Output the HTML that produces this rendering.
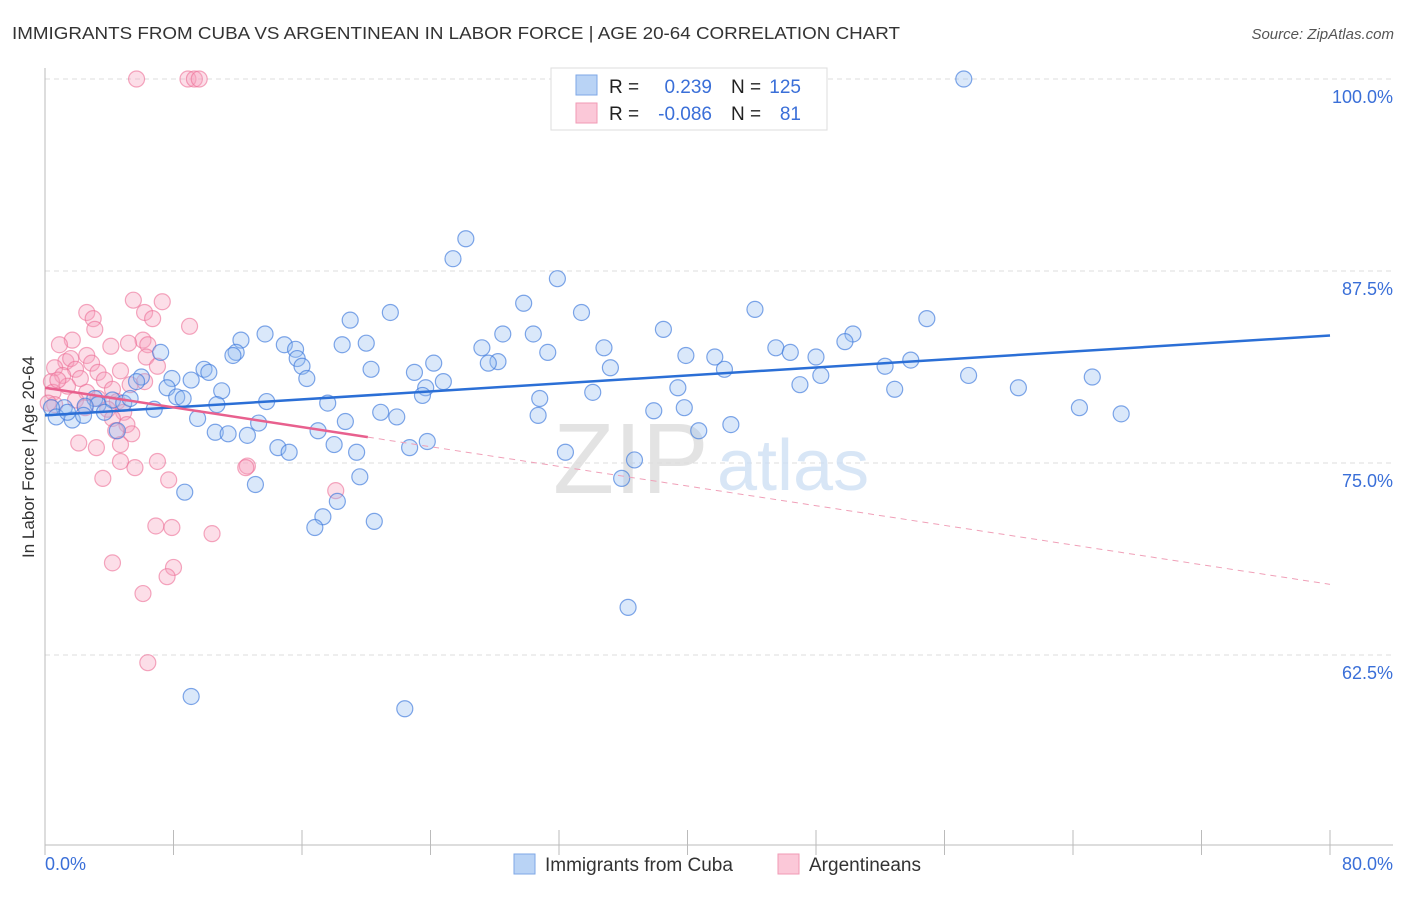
<!DOCTYPE html>
<html><head><meta charset="utf-8">
<style>
body{margin:0;background:#fff;font-family:"Liberation Sans",sans-serif;}
svg text{font-family:"Liberation Sans",sans-serif;}
</style></head>
<body>
<svg id="chart" width="1406" height="892" viewBox="0 0 1406 892" xmlns="http://www.w3.org/2000/svg">
<text x="12" y="39" font-size="17.5" fill="#333" textLength="888" lengthAdjust="spacingAndGlyphs">IMMIGRANTS FROM CUBA VS ARGENTINEAN IN LABOR FORCE | AGE 20-64 CORRELATION CHART</text>
<text x="1394" y="39" font-size="15" fill="#555" text-anchor="end" font-style="italic">Source: ZipAtlas.com</text>
<g id="grid"></g>
<g>
<text x="553" y="493" font-size="100" fill="#ddd" font-family="Liberation Serif" opacity="0.8">ZIP</text>
<text x="717" y="490" font-size="72" fill="#cfe0f5" opacity="0.8">atlas</text>
</g>
<g id="marks"></g>
<text transform="translate(34,457) rotate(-90)" font-size="17" fill="#333" text-anchor="middle">In Labor Force | Age 20-64</text>
<text x="45" y="870" font-size="18" fill="#3a6fd8">0.0%</text>
<text x="1393" y="870" font-size="18" fill="#3a6fd8" text-anchor="end">80.0%</text>
<g>
<rect x="551" y="68" width="276" height="62" fill="#fff" stroke="#ddd"/>
<rect x="576" y="75" width="21" height="20" fill="#b9d3f5" stroke="#7ea7e6"/>
<rect x="576" y="103" width="21" height="20" fill="#fbc8d8" stroke="#f09ab5"/>
<text x="609" y="93" font-size="19" fill="#222">R =</text>
<text x="712" y="93" font-size="19" fill="#3a6fd8" text-anchor="end">0.239</text>
<text x="731" y="93" font-size="19" fill="#222">N =</text>
<text x="801" y="93" font-size="19" fill="#3a6fd8" text-anchor="end">125</text>
<text x="609" y="120" font-size="19" fill="#222">R =</text>
<text x="712" y="120" font-size="19" fill="#3a6fd8" text-anchor="end">-0.086</text>
<text x="731" y="120" font-size="19" fill="#222">N =</text>
<text x="801" y="120" font-size="19" fill="#3a6fd8" text-anchor="end">81</text>
</g>
<g>
<rect x="514" y="854" width="21" height="20" fill="#b9d3f5" stroke="#7ea7e6"/>
<text x="545" y="871" font-size="19" fill="#333">Immigrants from Cuba</text>
<rect x="778" y="854" width="21" height="20" fill="#fbc8d8" stroke="#f09ab5"/>
<text x="809" y="871" font-size="19" fill="#333">Argentineans</text>
</g>
</svg>
<script>
const yTicks=[100,87.5,75,62.5];
const yTickLabels=["100.0%","87.5%","75.0%","62.5%"];
const xTicks=[0,8,16,24,32,40,48,56,64,72,80];
const cubaX=[57.2,26.2,25.4,31.9,29.8,21.5,33.4,44.2,19.0,54.9,38.5,50.3,13.7,28.5,30.4,12.2,14.9,18.5,20.0,15.6,49.8,27.2,34.8,45.5,7.2,11.9,11.7,31.3,46.4,39.9,41.7,48.0,15.7,53.9,24.2,28.2,27.6,16.0,9.9,20.3,35.2,52.3,42.3,57.5,16.3,23.0,48.3,65.2,6.0,7.9,5.7,9.1,24.8,10.2,7.6,47.0,39.4,60.6,23.7,11.0,52.9,34.1,23.5,8.2,8.6,30.8,3.1,4.2,4.9,3.3,13.8,17.6,10.7,6.8,1.2,2.5,0.4,20.9,37.9,39.8,64.4,67.0,9.5,0.7,1.7,2.4,30.7,21.9,18.7,13.3,42.7,17.0,40.7,10.6,11.4,12.6,4.5,23.8,18.0,14.5,22.7,15.2,19.4,32.4,36.7,35.9,19.6,13.1,8.7,18.2,17.3,20.5,16.8,36.3,9.1,22.4,5.3,1.4,3.7];
const cubaY=[100,89.6,88.3,87.0,85.4,84.8,84.8,85.0,84.3,84.4,83.7,83.4,83.4,83.4,83.4,83.0,82.7,82.7,82.8,82.4,82.9,82.5,82.5,82.5,82.2,82.2,82.0,82.2,82.2,82.0,81.9,81.9,81.8,81.7,81.5,81.6,81.5,81.3,81.1,81.1,81.2,81.3,81.1,80.7,80.5,80.9,80.7,80.6,80.6,80.5,80.3,80.4,80.3,80.9,79.9,80.1,79.9,79.9,79.9,79.7,79.8,79.6,79.4,79.3,79.2,79.2,79.2,79.1,78.9,78.8,79.0,78.9,78.8,78.5,78.6,78.7,78.6,78.3,78.4,78.6,78.6,78.2,77.9,78.0,77.8,78.1,78.1,78.0,77.7,77.6,77.5,77.1,77.1,77.0,76.9,76.8,77.1,76.4,76.2,76.0,76.0,75.7,75.7,75.7,75.2,74.0,74.1,73.6,73.1,72.5,71.5,71.2,70.8,65.6,59.8,59.0,79.2,78.3,78.3];
const argX=[5.7,8.9,9.3,9.6,5.5,7.3,2.6,3.0,6.2,6.7,3.1,9.0,6.1,1.7,6.4,5.2,4.1,0.9,2.6,1.3,1.6,6.3,2.9,7.0,0.6,1.9,3.3,4.7,1.1,2.2,3.7,0.4,6.2,5.3,1.4,4.2,2.6,0.5,3.3,1.9,4.5,0.6,2.5,3.9,4.9,4.2,5.1,4.4,5.4,2.1,4.7,3.2,7.0,4.7,12.6,5.6,12.5,7.7,3.6,18.1,6.9,7.9,10.4,4.2,8.0,7.6,6.1,6.4,0.2,0.8];
const argY=[100,100,100,100,85.6,85.5,84.8,84.4,84.8,84.4,83.7,83.9,83.0,83.0,82.7,82.8,82.6,82.7,82.0,81.6,81.8,81.9,81.5,81.3,81.2,81.1,80.9,81.0,80.7,80.5,80.4,80.3,80.3,80.1,80.0,79.8,79.6,79.6,79.2,79.1,79.0,78.8,78.6,78.5,78.3,77.9,77.5,77.1,76.9,76.3,76.2,76.0,75.1,75.1,74.8,74.7,74.7,73.9,74.0,73.2,70.9,70.8,70.4,68.5,68.2,67.6,66.5,62.0,78.9,80.4];
const cubaTrend=[78.1,83.3];
const argTrend=[79.9,67.1];
const argSolidEnd=20.1;

const NS="http://www.w3.org/2000/svg";
const X0=45,X1=1330,Y100=79,PX_PER_PCT=15.36;
const xs=v=>X0+(v/80)*(X1-X0);
const ys=v=>Y100+(100-v)*PX_PER_PCT;
function mk(tag,attrs,parent){const e=document.createElementNS(NS,tag);for(const k in attrs)e.setAttribute(k,attrs[k]);parent.appendChild(e);return e;}
const grid=document.getElementById('grid');
const marks=document.getElementById('marks');
const svg=document.getElementById('chart');
yTicks.forEach((t,i)=>{
  const l=mk('line',{x1:X0,x2:1393,y1:ys(t),y2:ys(t),stroke:'#ddd','stroke-dasharray':'5,4'},grid);
  
  
  const tx=mk('text',{x:1393,y:ys(t)+24,'font-size':18,fill:'#3a6fd8','text-anchor':'end'},svg);
  tx.textContent=yTickLabels[i];
  
  
});
const ax=mk('line',{x1:X0,x2:X0,y1:68,y2:845,stroke:'#bbb'},grid);


const bx=mk('line',{x1:X0,x2:1393,y1:845,y2:845,stroke:'#bbb'},grid);


xTicks.forEach(t=>{
  const tk=mk('line',{x1:xs(t),x2:xs(t),y1:830,y2:855,stroke:'#bbb'},grid);
  
  
});
argX.forEach((x,i)=>{
  const c=mk('circle',{cx:xs(x),cy:ys(argY[i]),r:8,fill:'rgba(246,160,190,0.35)',stroke:'rgba(236,110,150,0.6)','stroke-width':1.2},marks);
  
  
});
cubaX.forEach((x,i)=>{
  const c=mk('circle',{cx:xs(x),cy:ys(cubaY[i]),r:8,fill:'rgba(150,190,240,0.35)',stroke:'rgba(60,120,220,0.65)','stroke-width':1.2},marks);
  
  
});
const at=x=>argTrend[0]+(argTrend[1]-argTrend[0])*x/80;
const t1=mk('line',{x1:xs(0),y1:ys(cubaTrend[0]),x2:xs(80),y2:ys(cubaTrend[1]),stroke:'#2b6fd6','stroke-width':2.5},marks);


const t2=mk('line',{x1:xs(0),y1:ys(at(0)),x2:xs(argSolidEnd),y2:ys(at(argSolidEnd)),stroke:'#e8608e','stroke-width':2.5},marks);


const t3=mk('line',{x1:xs(argSolidEnd),y1:ys(at(argSolidEnd)),x2:xs(80),y2:ys(at(80)),stroke:'#f0a0b8','stroke-width':1,'stroke-dasharray':'6,5'},marks);


</script>
</body></html>
